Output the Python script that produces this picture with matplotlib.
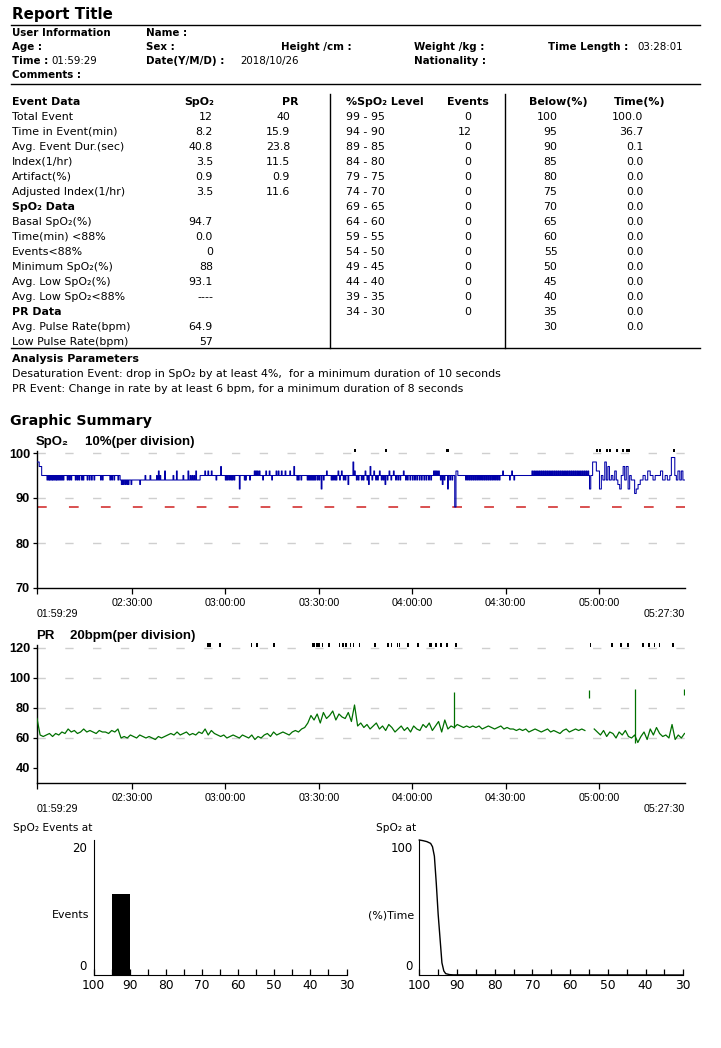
import numpy as np
import matplotlib
matplotlib.use("Agg")
import matplotlib.pyplot as plt
from matplotlib.lines import Line2D

plt.rcParams["lines.scale_dashes"] = False
nan = float("nan")

# ---------------------------------------------------------------- data
report_title = "Report Title"
start_time = "01:59:29"
end_time = "05:27:30"
time_length = "03:28:01"
record_date = "2018/10/26"

event_rows = ["Total Event", "Time in Event(min)", "Avg. Event Dur.(sec)",
              "Index(1/hr)", "Artifact(%)", "Adjusted Index(1/hr)"]
event_spo2 = ["12", "8.2", "40.8", "3.5", "0.9", "3.5"]
event_pr = ["40", "15.9", "23.8", "11.5", "0.9", "11.6"]
spo2_rows = ["Basal SpO₂(%)", "Time(min) <88%", "Events<88%",
             "Minimum SpO₂(%)", "Avg. Low SpO₂(%)", "Avg. Low SpO₂<88%"]
spo2_vals = ["94.7", "0.0", "0", "88", "93.1", "----"]
pr_rows = ["Avg. Pulse Rate(bpm)", "Low Pulse Rate(bpm)"]
pr_vals = ["64.9", "57"]

level_labels = ["99 - 95", "94 - 90", "89 - 85", "84 - 80", "79 - 75", "74 - 70",
                "69 - 65", "64 - 60", "59 - 55", "54 - 50", "49 - 45", "44 - 40",
                "39 - 35", "34 - 30"]
level_low = [95, 90, 85, 80, 75, 70, 65, 60, 55, 50, 45, 40, 35, 30]
level_events = [0, 12, 0, 0, 0, 0, 0, 0, 0, 0, 0, 0, 0, 0]
below_levels = [100, 95, 90, 85, 80, 75, 70, 65, 60, 55, 50, 45, 40, 35, 30]
below_time = [100.0, 36.7, 0.1, 0.0, 0.0, 0.0, 0.0, 0.0, 0.0, 0.0, 0.0, 0.0, 0.0, 0.0, 0.0]

# cumulative curve (SpO2 level -> % time below)
curve_level = [100, 99, 98, 97, 96.5, 96, 95.5, 95, 94.5, 94, 93.5, 93, 92, 91, 90, 30]
curve_time = [100, 99.5, 98.8, 97.5, 95, 88, 68, 45, 27, 9, 3, 1.0, 0.3, 0.1, 0.1, 0]

tick_labels = ["02:30:00", "03:00:00", "03:30:00", "04:00:00", "04:30:00", "05:00:00"]

# SpO2 trace: baseline steps (minute from start, value) ...
spo2_base_t = [0, 0.7, 1.5, 26.7, 52.4, 134.2, 134.6, 135.2,
               177.5, 177.9, 178.5, 179.7, 180.7, 181.3, 181.8, 182.4, 182.9, 183.4,
               183.9, 184.5, 185.0, 185.6, 186.1, 186.6, 187.2, 187.7, 188.3, 188.8,
               189.3, 189.9, 190.4, 190.9, 192.0, 192.5, 193.1, 193.8, 194.7, 195.4,
               196.2, 197.0, 197.9, 198.6, 200.3, 201.0, 201.8, 202.5, 203.3, 203.8,
               204.9, 205.4, 205.9, 206.5, 207.0, 207.5]
spo2_base_v = [98, 97, 95, 94, 95, 88, 96, 95,
               92, 95, 98, 96, 92, 95, 94, 98, 94, 97,
               94, 95, 94, 96, 94, 93, 92, 95, 97, 94,
               97, 92, 95, 94, 91, 92, 93, 94, 95, 94,
               96, 95, 94, 95, 96, 94, 95, 94, 95, 99,
               95, 94, 96, 94, 96, 94]
# ... plus short excursions (minute, value)
spo2_spike_t = [3.2, 3.7, 4.1, 4.6, 5.0, 5.5, 6.0, 6.4, 6.9, 7.4, 7.9, 8.4, 9.7, 10.3,
                10.9, 12.3, 12.9, 13.5, 14.3, 14.8, 16.1, 16.8, 17.5, 18.3, 20.4, 21.0,
                23.4, 24.0, 24.7, 26.0,
                27.1, 27.6, 28.2, 28.8, 29.3, 30.2, 33.0, 34.7, 36.3, 38.4, 39.0, 39.5,
                41.0, 43.7, 44.8, 46.9, 48.5, 49.2, 49.8, 50.4, 51.0,
                53.9, 54.9, 56.0, 57.5, 59.0, 60.5, 61.0, 61.6, 62.2, 62.7, 63.3, 65.0,
                66.6, 67.0, 68.3, 69.8, 70.3, 70.8, 71.4, 72.5, 73.5, 74.6, 75.4, 76.8,
                77.5, 78.5, 79.7, 81.2, 82.5, 83.5, 84.0, 84.8, 86.8, 87.3, 87.8, 88.3,
                88.8, 89.3, 90.0, 90.6, 91.3, 92.0, 93.0, 94.5, 95.0, 95.6, 96.1, 96.7,
                97.2, 97.8, 98.4, 99.0, 99.9, 101.5, 102.0, 102.6, 103.2,
                104.2, 104.8, 105.4, 106.0, 106.5, 107.0, 107.6, 108.2, 108.8, 109.4,
                110.0, 110.6, 111.2, 111.8, 112.5, 113.1, 113.7, 114.5, 115.2, 115.9,
                116.6, 117.7, 118.4, 119.0, 119.8, 120.6, 121.3, 122.0, 122.8, 123.5,
                124.3, 125.0, 125.8, 126.5, 127.4, 127.9, 128.4, 129.0, 129.6, 130.2,
                130.8, 131.9, 132.6, 133.3,
                137.7, 138.3, 138.9, 139.5, 140.1, 140.7, 141.3, 141.9, 142.5, 143.1,
                143.7, 144.3, 144.9, 145.5, 146.1, 146.7, 147.3, 147.9, 148.5, 149.6,
                151.8, 152.5, 153.2,
                159.0, 159.6, 160.2, 160.8, 161.4, 162.0, 162.6, 163.2, 163.8, 164.4,
                165.0, 165.6, 166.2, 166.8, 167.4, 168.0, 168.6, 169.2, 169.8, 170.4,
                171.0, 171.6, 172.2, 172.8, 173.4, 174.0, 174.6, 175.2, 175.8, 176.4,
                177.0]
spo2_spike_v = [94] * 30 + \
               [93, 93, 93, 93, 93, 93, 93, 95, 95, 95, 96, 95,
                96, 95, 96, 95, 96, 95, 95, 95, 96] + \
               [96, 96, 96, 94, 97, 94, 94, 94, 94, 94, 94, 92,
                94, 94, 94, 96, 96, 96, 96, 94, 96, 96, 94, 96,
                96, 96, 96, 96, 97, 94, 94, 94, 94, 94, 94, 94,
                94, 94, 94, 94, 92, 94, 96, 94, 94, 94, 94, 96,
                94, 96, 94, 94, 93, 98, 96, 94, 94] + \
               [94, 94, 96, 94, 93, 97, 94, 96, 94, 94,
                96, 94, 94, 93, 94, 96, 94, 96, 94, 94,
                94, 96, 94, 94, 94, 94, 94, 94, 94, 94,
                94, 94, 94, 94, 96, 96, 96, 96, 94, 93,
                94, 92, 94, 94] + \
               [94] * 19 + [96, 94, 96, 94] + [96] * 31
SPIKE_DUR = 0.25

spo2_event_t = [101.9, 111.9, 131.5, 179.6, 180.5, 182.8, 183.7, 186.1,
                187.9, 189.1, 189.9, 204.2]

# Pulse rate, one reading per minute from the start (nan = artifact gap)
pr_values = [73, 62, 61, 62, 63, 61, 63, 62, 64, 63,
             66, 64, 65, 63, 64, 66, 64, 65, 64, 63,
             65, 64, 64, 63, 65, 64, 66, 60, 61, 60,
             62, 61, 60, 62, 61, 60, 61, 60, 59, 61,
             60, 61, 62, 63, 62, 64, 62, 63, 64, 62,
             63, 62, 64, 63, 66, 62, 65, 63, 62, 61,
             62, 60, 61, 62, 61, 60, 62, 61, 60, 62,
             59, 61, 60, 62, 63, 61, 64, 62, 63, 64,
             63, 62, 64, 65, 64, 66, 67, 70, 75, 72,
             76, 70, 77, 73, 75, 78, 72, 76, 74, 73,
             77, 71, 82, 68, 70, 67, 69, 66, 68, 70,
             66, 68, 65, 69, 67, 64, 66, 68, 65, 67,
             64, 68, 66, 65, 69, 67, 70, 65, 68, 71,
             64, 72, 66, 68, 67, 69, 68, 67, 68, 67,
             68, 67, 68, 66, 67, 68, 67, 66, 67, 68,
             66, 67, 66, 66, 65, 66, 65, 66, 64, 65,
             66, 65, 64, 65, 66, 64, 65, 64, 63, 65,
             66, 64, 65, 66, 65, 66, 65, nan, nan, 66,
             64, 62, 65, 61, 64, 63, 60, 64, 62, 65,
             61, 60, 62, 57, 61, 64, 59, 66, 62, 67,
             63, 61, 62, 60, 69, 59, 62, 60, 63]
pr_spike_t = [134.1, 192.2]
pr_spike_lo = [67, 57]
pr_spike_hi = [91, 93]
pr_art_t = [177.4, 207.9]
pr_art_lo = [87, 89]
pr_art_hi = [92, 93]

pr_event_t = [54.7, 55.4, 58.6, 68.7, 70.4, 75.8, 88.3, 88.8, 89.7, 90.4,
              91.5, 93.6, 96.9, 98.0, 99.0, 100.4, 101.5, 103.3, 108.3, 112.6,
              113.7, 115.6, 116.2, 118.9, 122.1, 125.8, 126.3, 128.0, 129.6, 131.5,
              134.4, 177.6, 184.4, 187.4, 189.6, 194.4, 196.3, 198.1, 199.7, 204.0]

# ---------------------------------------------------------------- figure
W, H = 721, 1048
fig = plt.figure(figsize=(W / 100, H / 100), dpi=100)
fig.patch.set_facecolor("white")

SANS = ["DejaVu Sans"]
ARIAL = ["Liberation Sans", "DejaVu Sans"]


def fx(x):
    return x / W


def fy(y):
    return 1 - y / H


def txt(x, y, s, size=7.9, weight="normal", ha="left", va="center", family=SANS, **kw):
    return fig.text(fx(x), fy(y), s, fontsize=size, fontweight=weight, ha=ha, va=va,
                    family=family, **kw)


def hline(x0, x1, y, lw=1.0):
    fig.add_artist(Line2D([fx(x0), fx(x1)], [fy(y), fy(y)], color="black", lw=lw))


def vline(x, y0, y1, lw=1.0):
    fig.add_artist(Line2D([fx(x), fx(x)], [fy(y0), fy(y1)], color="black", lw=lw))


def add_axes_px(left, top, right, bottom):
    return fig.add_axes([left / W, 1 - bottom / H, (right - left) / W, (bottom - top) / H])


# ---- title / header
txt(12, 14, report_title, size=10.8, weight="bold")
hline(11, 700, 24.5)
hl = 7.4
txt(12, 33.5, "User Information", size=hl, weight="bold")
txt(146, 33.5, "Name :", size=hl, weight="bold")
txt(12, 47.5, "Age :", size=hl, weight="bold")
txt(146, 47.5, "Sex :", size=hl, weight="bold")
txt(281, 47.5, "Height /cm :", size=hl, weight="bold")
txt(414, 47.5, "Weight /kg :", size=hl, weight="bold")
txt(548, 47.5, "Time Length :", size=hl, weight="bold")
txt(637, 47.5, time_length, size=hl)
txt(12, 61, "Time :", size=hl, weight="bold")
txt(51, 61, start_time, size=hl)
txt(146, 61, "Date(Y/M/D) :", size=hl, weight="bold")
txt(240, 61, record_date, size=hl)
txt(414, 61, "Nationality :", size=hl, weight="bold")
txt(12, 75, "Comments :", size=hl, weight="bold")
hline(11, 700, 83.5)

# ---- left table
ry0, rdy = 101.7, 15.0
txt(12, ry0, "Event Data", weight="bold")
txt(184, ry0, "SpO₂", weight="bold")
txt(282, ry0, "PR", weight="bold")
for i, (lab, a, b) in enumerate(zip(event_rows, event_spo2, event_pr)):
    y = ry0 + (i + 1) * rdy
    txt(12, y, lab)
    txt(213, y, a, ha="right")
    txt(290, y, b, ha="right")
txt(12, ry0 + 7 * rdy, "SpO₂ Data", weight="bold")
for i, (lab, a) in enumerate(zip(spo2_rows, spo2_vals)):
    y = ry0 + (i + 8) * rdy
    txt(12, y, lab)
    txt(213, y, a, ha="right")
txt(12, ry0 + 14 * rdy, "PR Data", weight="bold")
for i, (lab, a) in enumerate(zip(pr_rows, pr_vals)):
    y = ry0 + (i + 15) * rdy
    txt(12, y, lab)
    txt(213, y, a, ha="right")

# ---- right table
txt(346, ry0, "%SpO₂ Level", weight="bold")
txt(447, ry0, "Events", weight="bold")
txt(529, ry0, "Below(%)", weight="bold")
txt(614, ry0, "Time(%)", weight="bold")
for i, (lab, n) in enumerate(zip(level_labels, level_events)):
    y = ry0 + (i + 1) * rdy
    txt(346, y, lab)
    txt(471.5, y, str(n), ha="right")
for i, (lv, tp) in enumerate(zip(below_levels, below_time)):
    y = ry0 + (i + 1) * rdy
    txt(557.5, y, str(lv), ha="right")
    txt(643.5, y, f"{tp:.1f}", ha="right")

vline(330, 94, 347.5)
vline(505, 94, 347.5)
hline(11, 700, 347.5)

txt(12, 358.5, "Analysis Parameters", weight="bold")
txt(12, 374, "Desaturation Event: drop in SpO₂ by at least 4%,  for a minimum duration of 10 seconds")
txt(12, 389, "PR Event: Change in rate by at least 6 bpm, for a minimum duration of 8 seconds")

txt(9.5, 420.5, "Graphic Summary", size=10.2, weight="bold")


# ---------------------------------------------------------------- time charts
def hms_to_min(s):
    h, m, sec = (int(p) for p in s.split(":"))
    return h * 60 + m + sec / 60.0


t0 = hms_to_min(start_time)
total_min = hms_to_min(time_length)
tick_pos = [hms_to_min(s) - t0 for s in tick_labels]

X_LEFT, X_RIGHT = 37.0, 684.5
GRID = dict(color="#cfcfcf", lw=1.0, dashes=(6, 14), zorder=0.5)


def style_time_axes(ax, yticks, ylab_y):
    for s in ("top", "right"):
        ax.spines[s].set_visible(False)
    for s in ("left", "bottom"):
        ax.spines[s].set_linewidth(1.0)
    ax.set_xlim(0, total_min)
    ax.set_xticks([0] + tick_pos)
    ax.set_xticklabels([""] + tick_labels, fontsize=7.7, family=ARIAL)
    ax.tick_params(axis="x", length=4, width=0.9, pad=3)
    ax.set_yticks(yticks)
    ax.set_yticklabels([str(v) for v in yticks], fontsize=9.2, fontweight="bold",
                       family=ARIAL)
    ax.tick_params(axis="y", length=3, width=0.9, pad=2)
    for v in yticks[1:]:
        ax.axhline(v, **GRID)
    txt(X_LEFT, ylab_y, start_time, size=7.7, family=ARIAL)
    txt(X_RIGHT, ylab_y, end_time, size=7.7, family=ARIAL, ha="right")


# SpO2
ax1 = add_axes_px(X_LEFT, 588 - 135 / 30 * 30.5, X_RIGHT, 588)
ax1.set_ylim(70, 100.5)
style_time_axes(ax1, [70, 80, 90, 100], 614)
grid_t = np.arange(0, total_min, 0.05)
idx = np.searchsorted(np.array(spo2_base_t), grid_t, side="right") - 1
spo2 = np.array(spo2_base_v, dtype=float)[idx]
for st, sv in zip(spo2_spike_t, spo2_spike_v):
    spo2[(grid_t >= st) & (grid_t < st + SPIKE_DUR)] = sv
ax1.plot(grid_t, spo2, drawstyle="steps-post", color="#0000a8", lw=0.75, zorder=3)
ax1.axhline(88, color="#d02020", lw=1.1, dashes=(7, 16), zorder=2)
ax1.bar(spo2_event_t, 0.7, bottom=100.12, width=0.7, align="edge", color="black",
        clip_on=False, zorder=4)
txt(36, 441.5, "SpO₂", size=9.5, weight="bold", family=ARIAL)
txt(85, 441.5, "10%(per division)", size=9.5, weight="bold", family=ARIAL)

# PR
ax2 = add_axes_px(X_LEFT, 783 - 1.5 * 92, X_RIGHT, 783)
ax2.set_ylim(30, 122)
style_time_axes(ax2, [40, 60, 80, 100, 120], 809)
pr_t = np.arange(len(pr_values)) * (total_min / (len(pr_values) - 1))
ax2.plot(pr_t, pr_values, color="#007000", lw=0.9, zorder=3)
ax2.vlines(pr_spike_t, pr_spike_lo, pr_spike_hi, color="#007000", lw=0.9, zorder=3)
ax2.vlines(pr_art_t, pr_art_lo, pr_art_hi, color="#007000", lw=0.9, zorder=3)
ax2.bar(pr_event_t, 2.7, bottom=120.4, width=0.5, align="edge", color="black",
        clip_on=False, zorder=4)
txt(36, 636, "PR", size=9.5, weight="bold", family=ARIAL)
txt(70, 636, "20bpm(per division)", size=9.5, weight="bold", family=ARIAL)


# ---------------------------------------------------------------- lower plots
def style_hist_axes(ax):
    for s in ("top", "right"):
        ax.spines[s].set_visible(False)
    ax.set_xlim(100, 30)
    ax.set_xticks(np.arange(100, 29, -10))
    ax.set_xticklabels([str(v) for v in range(100, 29, -10)], fontsize=8.8, family=SANS)
    ax.set_xticks(np.arange(95, 30, -10), minor=True)
    ax.tick_params(axis="x", which="both", direction="in", length=4, width=0.9, pad=3)
    ax.set_yticks([])


ax3 = add_axes_px(93.5, 840, 346.5, 975)
ax3.set_ylim(0, 20)
style_hist_axes(ax3)
ax3.bar(level_low, level_events, width=5, align="edge", color="black")
txt(13, 828, "SpO₂ Events at", size=7.6)
txt(87, 848, "20", size=8.5, ha="right")
txt(87, 966, "0", size=8.5, ha="right")
txt(89, 915, "Events", size=7.9, ha="right")

ax4 = add_axes_px(419.3, 840, 683.3, 975)
ax4.set_ylim(0, 100)
style_hist_axes(ax4)
ax4.plot(curve_level, curve_time, color="black", lw=1.0, clip_on=False)
txt(376, 828, "SpO₂ at", size=7.6)
txt(413, 848, "100", size=8.5, ha="right")
txt(413, 966, "0", size=8.5, ha="right")
txt(414, 915, "(%)Time", size=7.9, ha="right")

fig.savefig("out.png", dpi=100, facecolor="white")
